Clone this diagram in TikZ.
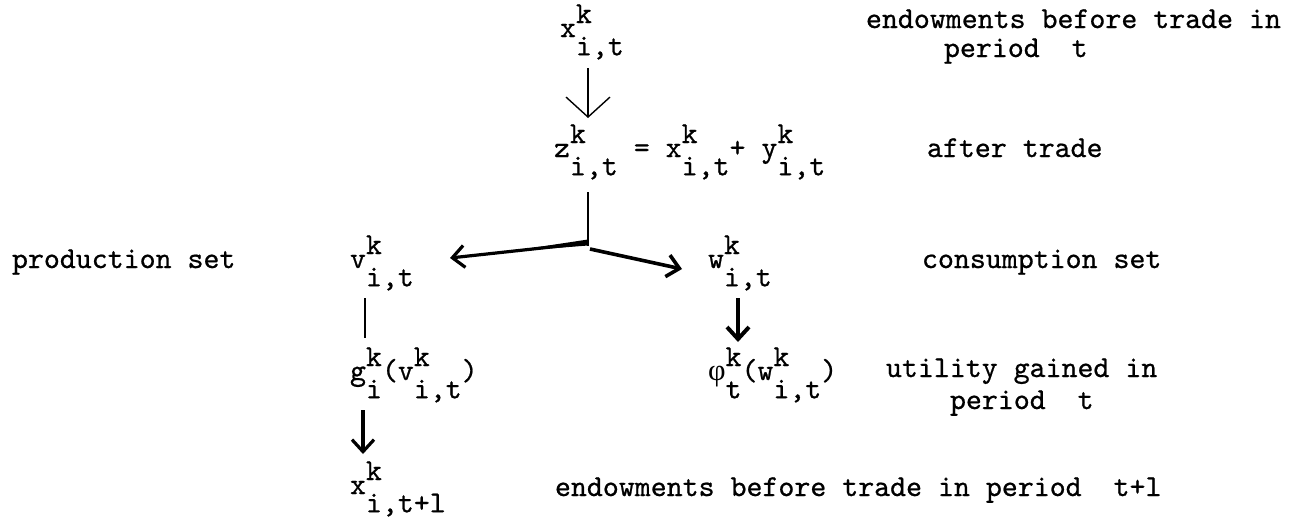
\documentclass[tikz,border=0pt]{standalone}
\usepackage{fontspec}
\usetikzlibrary{arrows.meta}
\newfontfamily\tw{lmmono10-regular}[Extension=.otf,FakeBold=0.7]
\newfontfamily\grk{Liberation Serif}
\newcommand\tsym[3]{#1\rlap{\raisebox{0.46em}{#2}}\raisebox{-0.6em}{#3}}
\begin{document}
\begin{tikzpicture}[x=0.5pt,y=-0.5pt,
  every node/.style={inner sep=0pt,outer sep=0pt,font=\fontsize{15.2}{18}\selectfont\tw},
  txt/.style={anchor=base west},
  thinline/.style={line width=0.75pt},
  thickarrow/.style={line width=1.6pt,-{Straight Barb[length=6pt,width=11pt]}},
  openarrow/.style={line width=0.7pt,-{Straight Barb[length=10pt,width=22pt,line width=0.7pt]}}]
\fill[white] (0,0) rectangle (1297,525);
\useasboundingbox (0,0) rectangle (1297,525);
% nodes
\node[txt] (xt) at (560,37) {\tsym{x}{k}{i,t}};
\node[txt] (lab1) at (866,28) {endowments before trade in};
\node[txt] (lab1b) at (944,57) {period\ \ t};
\node[txt] (z) at (554,157) {\tsym{z}{k}{i,t} = \tsym{x}{k}{i,t}+ \tsym{y}{k}{i,t}};
\node[txt] (lab2) at (927,157) {after trade};
\node[txt] (prod) at (12,268) {production set};
\node[txt] (v) at (350,268) {\tsym{v}{k}{i,t}};
\node[txt] (w) at (708,268) {\tsym{w}{k}{i,t}};
\node[txt] (cons) at (922,268) {consumption set};
\node[txt] (g) at (350,380) {\tsym{g}{k}{i}(\tsym{v}{k}{i,t})};
\node[txt] (phi) at (708,380) {\tsym{{\grk φ}}{k}{t}(\tsym{w}{k}{i,t})};
\node[txt] (lab4) at (886,377) {utility gained in};
\node[txt] (lab4b) at (950,409) {period\ \ t};
\node[txt] (xb) at (350,494) {\tsym{x}{k}{i,t+l}};
\node[txt] (lab5) at (555,496) {endowments before trade in period\ \ t+l};
% connector end points
\coordinate (a1s) at (588,68);
\coordinate (a1e) at (588,118);
\coordinate (st) at (588,192);
\coordinate (j) at (588,246);
\coordinate (jl) at (588,243);
\coordinate (jr) at (590,249);
\coordinate (vt) at (450,258);
\coordinate (wt) at (682,269);
\coordinate (vs) at (365,298);
\coordinate (ge) at (365,338);
\coordinate (ws) at (738,298);
\coordinate (phe) at (738,342);
\coordinate (gs) at (363,410);
\coordinate (xe) at (363,454);
% connectors
\draw[openarrow] (a1s) -- (a1e);
\draw[thinline] (st) -- (j);
\draw[thickarrow] (jl) -- (vt);
\fill (588,239.5) -- (588,245.5) -- (505,252) -- cycle;
\draw[thickarrow,line width=1.8pt] (jr) -- (wt);
\draw[line width=1pt] (vs) -- (ge);
\draw[thickarrow,line width=2pt] (ws) -- (phe);
\draw[thickarrow] (gs) -- (xe);
\end{tikzpicture}
\end{document}
